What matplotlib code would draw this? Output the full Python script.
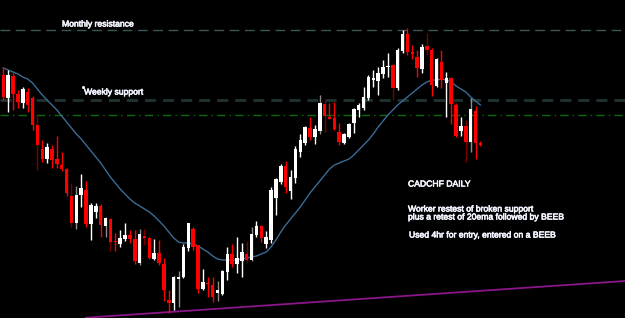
import matplotlib.pyplot as plt
import matplotlib.patheffects as pe

# candle data (price levels, arbitrary units)
opens = [243, 220, 242, 224, 215, 226, 220, 193, 169, 159,
         169, 159, 153, 149, 122, 95, 123, 128, 94, 106,
         112, 92, 99, 77, 74, 79, 83, 79, 55, 82,
         80, 59, 65, 54, 18, 15, 39, 41, 70, 89,
         73, 29, 35, 33, 25, 24, 46, 64, 54, 57,
         64, 58, 83, 92, 74, 78, 120, 136, 152, 127,
         140, 166, 175, 190, 181, 187, 214, 201, 200, 186,
         175, 181, 195, 208, 210, 220, 238, 237, 244, 251,
         253, 230, 267, 284, 266, 261, 249, 272, 268, 232,
         256, 235, 240, 213, 187, 192, 176, 207, 175]
highs = [251, 248, 245, 228, 231, 230, 222, 203, 178, 175,
         173, 182, 166, 150, 135, 132, 144, 137, 115, 115,
         114, 101, 100, 85, 88, 95, 88, 88, 89, 89,
         81, 79, 78, 60, 28, 42, 47, 74, 95, 91,
         73, 49, 41, 41, 37, 48, 71, 74, 81, 75,
         77, 91, 97, 93, 87, 131, 140, 154, 157, 148,
         172, 184, 192, 201, 193, 223, 218, 215, 216, 195,
         185, 195, 210, 215, 231, 243, 248, 251, 258, 265,
         255, 270, 288, 290, 273, 268, 274, 285, 270, 260,
         268, 246, 241, 215, 201, 198, 220, 212, 177]
lows = [218, 206, 208, 210, 210, 206, 188, 148, 156, 155,
        150, 150, 147, 122, 91, 89, 111, 91, 78, 100,
        81, 81, 67, 67, 71, 77, 75, 54, 53, 73,
        59, 58, 53, 17, 5, 8, 11, 40, 67, 68,
        25, 28, 21, 16, 17, 23, 38, 51, 45, 41,
        56, 57, 81, 76, 70, 75, 103, 134, 125, 119,
        135, 161, 173, 178, 174, 184, 186, 199, 188, 173,
        174, 180, 185, 201, 208, 218, 231, 223, 240, 241,
        218, 228, 265, 263, 259, 241, 245, 263, 222, 231,
        230, 201, 194, 181, 182, 156, 166, 159, 172]
closes = [221, 243, 224, 216, 229, 213, 193, 173, 159, 171,
          158, 154, 149, 125, 95, 123, 130, 94, 113, 112,
          93, 100, 76, 76, 80, 83, 79, 57, 84, 80,
          60, 65, 55, 28, 15, 41, 41, 71, 95, 71,
          29, 36, 34, 21, 28, 47, 64, 54, 60, 66,
          58, 84, 92, 80, 81, 128, 139, 152, 131, 141,
          169, 178, 191, 181, 189, 215, 202, 199, 189, 176,
          184, 194, 209, 213, 221, 241, 240, 245, 251, 252,
          230, 268, 284, 266, 264, 250, 271, 268, 233, 259,
          238, 240, 214, 182, 192, 176, 209, 175, 173]
ema20 = [250, 248, 246, 244, 241, 239, 235, 229, 223, 218,
         213, 208, 202, 196, 190, 184, 179, 173, 167, 161,
         155, 148, 141, 135, 129, 124, 119, 115, 112, 109,
         106, 102, 97, 92, 86, 80, 76, 75, 75, 74,
         72, 69, 66, 62, 59, 58, 58, 58, 58, 59,
         60, 61, 62, 64, 66, 71, 78, 86, 93, 99,
         105, 111, 118, 125, 131, 137, 143, 149, 153, 155,
         157, 159, 163, 168, 173, 178, 184, 191, 197, 203,
         208, 213, 217, 221, 225, 229, 233, 236, 238, 238,
         239, 238, 236, 232, 229, 226, 221, 217, 213]
# candles whose wick shows in the dim colour
dim_bars = [7, 14, 15, 21, 22, 28, 29, 36, 44, 50, 51, 65, 66, 80, 87, 95, 96]

monthly_resistance = 288
weekly_support = 218.5
green_level = 202.7
trend_x = [17.0, 127.7]
trend_y = [0.3, 37.0]

fig = plt.figure(figsize=(6.25, 3.18), dpi=100, facecolor="black")
ax = fig.add_axes([0, 0, 1, 1])
ax.set_facecolor("black")
ax.set_xlim(-0.68, 127.7)
ax.set_ylim(0, 318)
ax.axis("off")

# levels
ax.axhline(monthly_resistance, color="#3a5656", lw=1, dashes=(7, 4))
ax.axhline(weekly_support, color="#1f3333", lw=2, dashes=(4, 2.5))
ax.axhline(green_level, color="#0b6b0b", lw=1, dashes=(6, 3, 1, 3))
ax.plot(trend_x, trend_y, color="#8a168a", lw=1.3)

ax.plot(range(len(ema20)), ema20, color="#3b6b94", lw=1)

for i in range(len(opens)):
    o, h, l, c = opens[i], highs[i], lows[i], closes[i]
    bull = c >= o
    body_col = "white" if bull else "#ff0000"
    if i in dim_bars:
        wick_col = "#8c8c8c" if bull else "#7a0000"
    else:
        wick_col = body_col
    ax.vlines(i, l, h, colors=wick_col, lw=1, zorder=3)
    bottom = min(o, c)
    height = max(abs(c - o), 1.2)
    ax.bar(i, height, bottom=bottom, width=0.72, color=body_col,
           linewidth=0, zorder=4)

thick = [pe.withStroke(linewidth=0.45, foreground="#f2f4ff")]
font = {"family": ["Liberation Sans", "DejaVu Sans"], "size": 6.2,
        "color": "#f2f4ff", "path_effects": thick}
ax.text(62 / 625, 1 - 24 / 318, "Monthly resistance", transform=ax.transAxes,
        va="center", ha="left", **font)
ax.text(84 / 625, 1 - 92 / 318, "Weekly support", transform=ax.transAxes,
        va="center", ha="left", **font)
ax.plot([83 / 625], [1 - 86.5 / 318], "s", ms=1, color="white",
        transform=ax.transAxes)
ax.text(408 / 625, 1 - 184 / 318, "CADCHF DAILY", transform=ax.transAxes,
        va="center", ha="left", **font)
ax.text(408 / 625, 1 - 209 / 318, "Worker restest of broken support",
        transform=ax.transAxes, va="center", ha="left", **font)
ax.text(408 / 625, 1 - 217 / 318, "plus a retest of 20ema followed by BEEB",
        transform=ax.transAxes, va="center", ha="left", **font)
ax.text(409 / 625, 1 - 235 / 318, "Used 4hr for entry, entered on a BEEB",
        transform=ax.transAxes, va="center", ha="left", **font)

plt.savefig("out.png", dpi=100, facecolor="black")
plt.close()
